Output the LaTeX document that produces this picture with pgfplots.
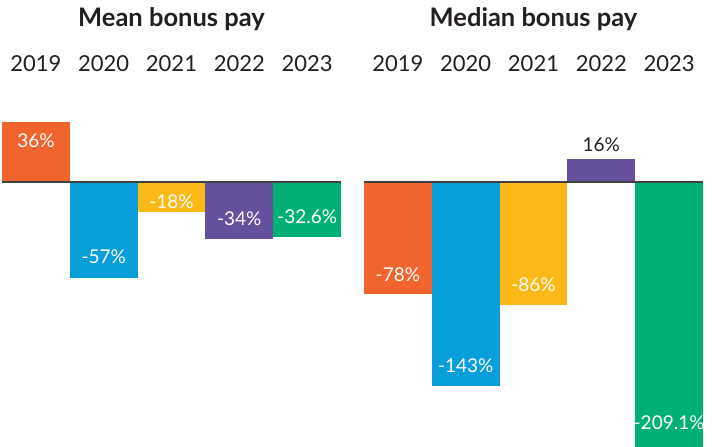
\documentclass[border=0pt]{standalone}
\usepackage{fontspec}
\setmainfont{Lato}
\usepackage{pgfplots}
\pgfplotsset{compat=1.18}
\definecolor{corange}{RGB}{242,100,45}
\definecolor{cblue}{RGB}{8,157,219}
\definecolor{cyellow}{RGB}{251,185,24}
\definecolor{cpurple}{RGB}{102,80,158}
\definecolor{cgreen}{RGB}{0,176,116}
\definecolor{txt}{RGB}{35,31,32}
\pgfplotsset{
  common/.style={
    scale only axis, width=339pt, height=447pt,
    xmin=-0.5, xmax=4.5,
    axis line style={draw=none},
    ytick=\empty,
    xtick={0,1,2,3,4},
    xticklabels={2019,2020,2021,2022,2023},
    xticklabel pos=upper,
    major tick length=0pt,
    xtick style={draw=none},
    xticklabel style={anchor=center, yshift=-64pt, font=\fontsize{22}{26}\selectfont, text=txt},
    every axis title shift=0pt,
    title style={at={(0.5,0.9575)}, anchor=center, font=\fontsize{25.5}{30}\selectfont\bfseries, text=txt},
  },
  bar/.style={ybar, bar width=1, bar shift=0pt, draw=none,
    nodes near coords, point meta=explicit symbolic,
    every node near coord/.append style={anchor=center, text=white, font=\fontsize{19}{23}\selectfont}},
  zero/.style={sharp plot, draw=black!75, line width=1.5pt, no markers},
}
\begin{document}
\begin{tikzpicture}[x=1pt,y=1pt]
\useasboundingbox (0,0) rectangle (716,447);
\begin{axis}[common, at={(2pt,0pt)}, anchor=south west,
  ymin=-157.74, ymax=108.33, title={Mean bonus pay}]
\addplot[bar, fill=corange, every node near coord/.append style={yshift=-19pt}] coordinates {(0,36) [36\%]};
\addplot[bar, fill=cblue, every node near coord/.append style={yshift=21pt}] coordinates {(1,-57) [-57\%]};
\addplot[bar, fill=cyellow, every node near coord/.append style={yshift=11pt}] coordinates {(2,-18) [-18\%]};
\addplot[bar, fill=cpurple, every node near coord/.append style={yshift=20pt}] coordinates {(3,-34) [-34\%]};
\addplot[bar, fill=cgreen, every node near coord/.append style={yshift=20pt}] coordinates {(4,-32.6) [-32.6\%]};
\addplot[zero] coordinates {(-0.5,0) (4.5,0)};
\end{axis}
\begin{axis}[common, at={(364pt,0pt)}, anchor=south west, clip=false,
  ymin=-185.31, ymax=127.27, title={Median bonus pay}]
\addplot[bar, fill=corange, every node near coord/.append style={yshift=19pt}] coordinates {(0,-78) [-78\%]};
\addplot[bar, fill=cblue, every node near coord/.append style={yshift=21pt}] coordinates {(1,-143) [-143\%]};
\addplot[bar, fill=cyellow, every node near coord/.append style={yshift=20pt}] coordinates {(2,-86) [-86\%]};
\addplot[bar, fill=cpurple, every node near coord/.append style={yshift=14pt, text=txt}] coordinates {(3,16) [16\%]};
\addplot[bar, fill=cgreen, every node near coord/.append style={yshift=58pt}] coordinates {(4,-209.1) [-209.1\%]};
\addplot[zero] coordinates {(-0.5,0) (4.5,0)};
\end{axis}
\end{tikzpicture}
\end{document}
